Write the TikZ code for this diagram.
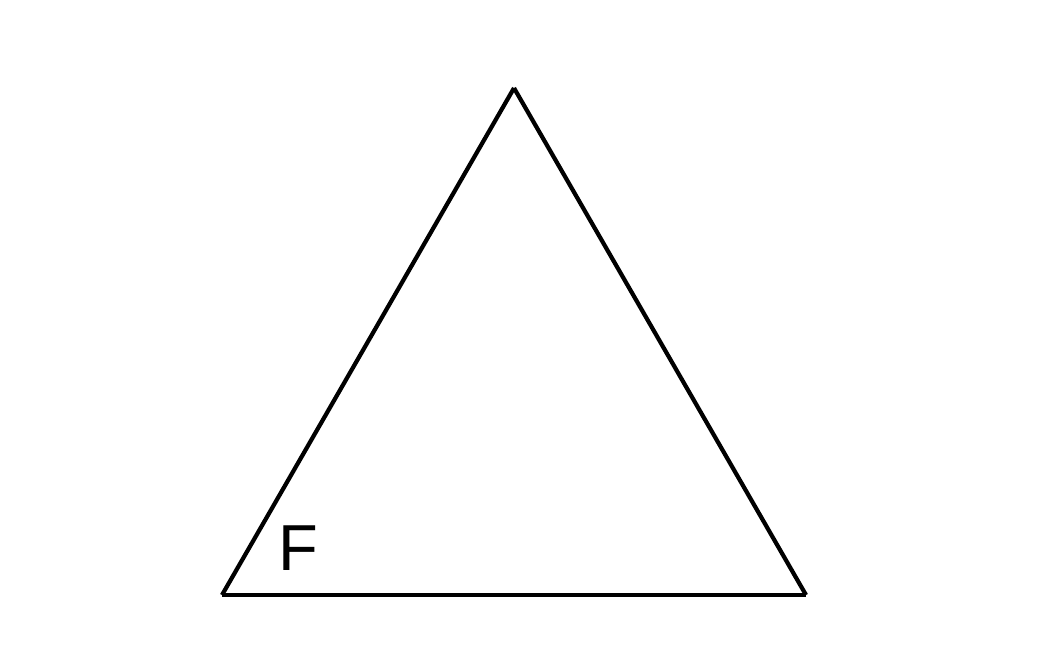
\documentclass[tikz,border=0pt]{standalone}
\usepackage{fontspec}
\setmainfont{Liberation Sans}
\usetikzlibrary{calc}

\begin{document}
\begin{tikzpicture}
\useasboundingbox (0,0) rectangle (10.46,6.54);
\coordinate (A) at (2.22,0.59);
\coordinate (B) at (8.06,0.59);
\coordinate (C) at (5.14,5.66);

\draw[very thick] (A)--(B); %%Bottom
\draw[very thick] (A)--(C); %%Left
\draw[very thick] (B)--(C); %%Right
\node[font=\fontsize{18.5}{22}\selectfont] (F) at (2.98,1.06) {F};
\end{tikzpicture}
\end{document}
